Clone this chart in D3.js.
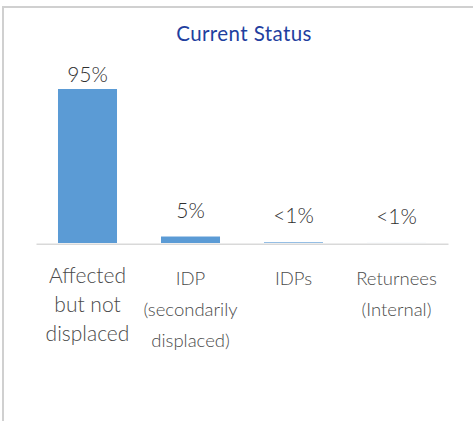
<!DOCTYPE html>
<html>
<head>
<meta charset="utf-8">
<script src="https://cdn.jsdelivr.net/npm/d3@7"></script>
<style>
  html, body { margin: 0; padding: 0; background: #fff; }
  svg { display: block; }
</style>
</head>
<body>
<svg id="chart" width="473" height="421"></svg>
<script>
// ---- data ----
const categories = ["Affected but not displaced", "IDP (secondarily displaced)", "IDPs", "Returnees (Internal)"];
const categoryLines = [
  ["Affected", "but not", "displaced"],
  ["IDP", "(secondarily", "displaced)"],
  ["IDPs"],
  ["Returnees", "(Internal)"]
];
const values = [95, 4, 0.4, 0.02];
const valueLabels = ["95%", "5%", "<1%", "<1%"];
const title = "Current Status";

// ---- drawing ----
const svg = d3.select("#chart");
const font = "Lato, 'Open Sans', sans-serif";

// outer frame (only top and left edges visible)
svg.append("rect")
  .attr("x", 3).attr("y", 7)
  .attr("width", 500).attr("height", 500)
  .attr("fill", "none")
  .attr("stroke", "#d0d0d0")
  .attr("stroke-width", 2);

svg.append("text")
  .attr("x", 244).attr("y", 41)
  .attr("text-anchor", "middle")
  .attr("font-family", font)
  .attr("font-size", 20.5)
  .attr("letter-spacing", 0.4)
  .attr("fill", "#1f3f9f")
  .text(title);

const x = d3.scaleBand()
  .domain(categories)
  .range([36, 448])
  .paddingInner(0.427)
  .paddingOuter(0.2135);

const y = d3.scaleLinear()
  .domain([0, 95])
  .range([243, 89]);

svg.append("g").selectAll("rect")
  .data(values)
  .join("rect")
  .attr("x", (d, i) => x(categories[i]))
  .attr("y", d => y(d))
  .attr("width", x.bandwidth())
  .attr("height", d => y(0) - y(d))
  .attr("fill", "#5b9bd5");

// baseline axis
const axis = svg.append("g")
  .attr("transform", `translate(0,${y(0) + 0.75})`)
  .call(d3.axisBottom(x).tickSize(0).tickFormat(""));
axis.select(".domain").attr("stroke", "#d9d9d9").attr("stroke-width", 1.5);

// value labels
svg.append("g").selectAll("text")
  .data(values)
  .join("text")
  .attr("x", (d, i) => x(categories[i]) + x.bandwidth() / 2)
  .attr("y", d => Math.max(y(d) - 19, 82))
  .attr("text-anchor", "middle")
  .attr("font-family", font)
  .attr("font-weight", 300)
  .attr("font-size", 21)
  .attr("fill", "#303030")
  .text((d, i) => valueLabels[i]);

// category labels
const catSize = [21, 18.5, 18.5, 18.5];
const catFirst = [283, 285, 285, 285];
const catStep = [29, 31, 31, 31];
const catG = svg.append("g");
categoryLines.forEach((lines, i) => {
  const t = catG.append("text")
    .attr("text-anchor", "middle")
    .attr("font-family", font)
    .attr("font-weight", 300)
    .attr("font-size", catSize[i])
    .attr("fill", "#4a4a4a");
  lines.forEach((ln, j) => {
    t.append("tspan")
      .attr("x", x(categories[i]) + x.bandwidth() / 2)
      .attr("y", catFirst[i] + j * catStep[i])
      .text(ln);
  });
});
</script>
</body>
</html>
